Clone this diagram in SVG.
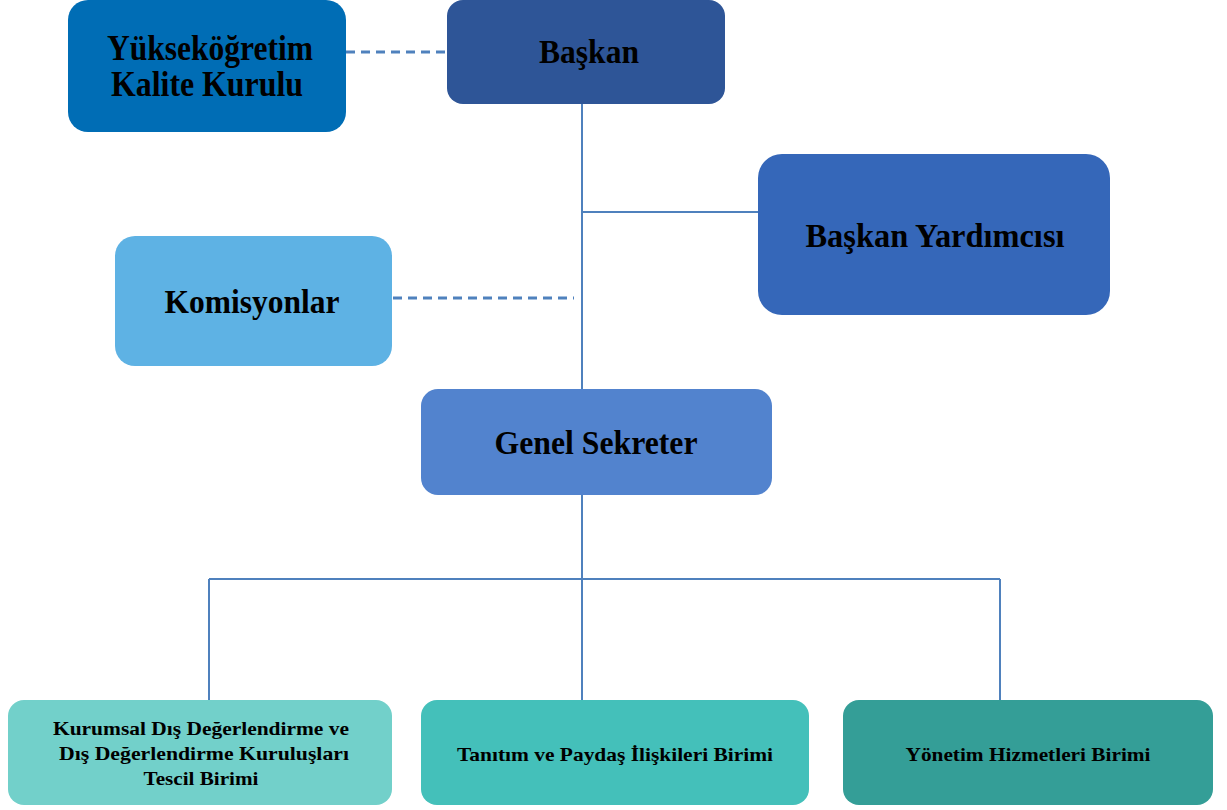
<svg xmlns="http://www.w3.org/2000/svg" width="1227" height="810" viewBox="0 0 1227 810">
<style>
.t{font-family:"Liberation Serif","Times New Roman",serif;font-weight:bold;fill:#000;text-anchor:middle}
.big{font-size:33px}
.small{font-size:19.5px}
.ln{stroke:#4F81BD;stroke-width:2;fill:none}
.dash{stroke:#4F81BD;stroke-width:3;fill:none;stroke-dasharray:9,6}
</style>
<rect width="1227" height="810" fill="#fff"/>
<g id="connectors">
<line class="dash" x1="346" y1="52" x2="447" y2="52"/>
<line class="dash" x1="393" y1="298" x2="574" y2="298"/>
<line class="ln" x1="582" y1="104" x2="582" y2="390"/>
<line class="ln" x1="582" y1="212" x2="758" y2="212"/>
<line class="ln" x1="582" y1="495" x2="582" y2="700"/>
<line class="ln" x1="209" y1="579" x2="1000" y2="579"/>
<line class="ln" x1="209" y1="579" x2="209" y2="700"/>
<line class="ln" x1="1000" y1="579" x2="1000" y2="700"/>
</g>
<g id="yok">
<rect x="68" y="0" width="278" height="132" rx="20" fill="#006DB5"/>
<text class="t big" x="210" y="60" textLength="206" lengthAdjust="spacingAndGlyphs" style="font-size:35px">Yükseköğretim</text>
<text class="t big" x="207" y="96" textLength="192" lengthAdjust="spacingAndGlyphs" style="font-size:35px">Kalite Kurulu</text>
</g>
<g id="baskan">
<rect x="447" y="0" width="278" height="104" rx="16" fill="#2E5597"/>
<text class="t big" x="589" y="63" textLength="100" lengthAdjust="spacingAndGlyphs">Başkan</text>
</g>
<g id="baskan-yardimcisi">
<rect x="758" y="154" width="352" height="161" rx="24" fill="#3567B9"/>
<text class="t big" x="935" y="247" textLength="259" lengthAdjust="spacingAndGlyphs">Başkan Yardımcısı</text>
</g>
<g id="komisyonlar">
<rect x="115" y="236" width="277" height="130" rx="20" fill="#5EB2E4"/>
<text class="t big" x="252" y="313" textLength="175" lengthAdjust="spacingAndGlyphs">Komisyonlar</text>
</g>
<g id="genel-sekreter">
<rect x="421" y="389" width="351" height="106" rx="17" fill="#5283CE"/>
<text class="t big" x="596" y="454" textLength="203" lengthAdjust="spacingAndGlyphs">Genel Sekreter</text>
</g>
<g id="birim1">
<rect x="8" y="700" width="384" height="105" rx="16" fill="#72D0CA"/>
<text class="t small" x="201" y="735" textLength="296" lengthAdjust="spacingAndGlyphs">Kurumsal Dış Değerlendirme ve</text>
<text class="t small" x="204" y="760" textLength="290" lengthAdjust="spacingAndGlyphs">Dış Değerlendirme Kuruluşları</text>
<text class="t small" x="201" y="785" textLength="115" lengthAdjust="spacingAndGlyphs">Tescil Birimi</text>
</g>
<g id="birim2">
<rect x="421" y="700" width="388" height="105" rx="16" fill="#44C0BA"/>
<text class="t small" x="615" y="761" textLength="316" lengthAdjust="spacingAndGlyphs">Tanıtım ve Paydaş İlişkileri Birimi</text>
</g>
<g id="birim3">
<rect x="843" y="700" width="370" height="105" rx="16" fill="#349E97"/>
<text class="t small" x="1028" y="761" textLength="245" lengthAdjust="spacingAndGlyphs">Yönetim Hizmetleri Birimi</text>
</g>
</svg>
